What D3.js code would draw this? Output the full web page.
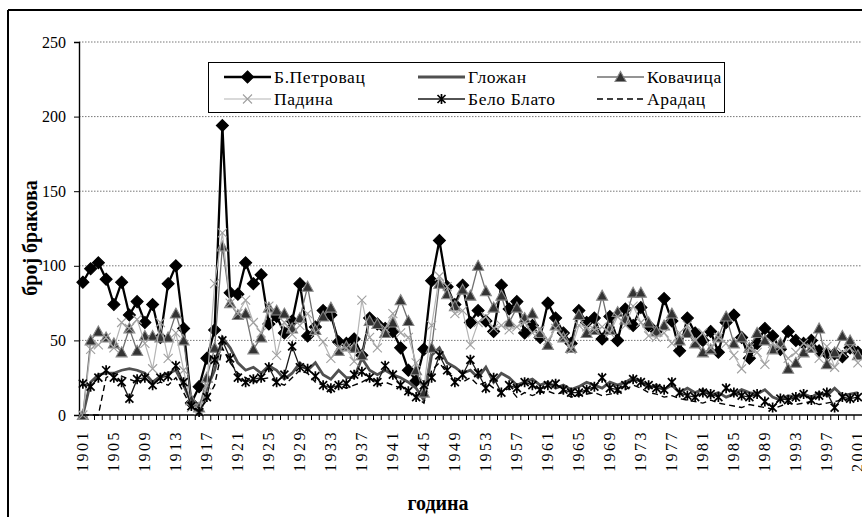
<!DOCTYPE html>
<html>
<head>
<meta charset="utf-8">
<script src="https://cdn.jsdelivr.net/npm/d3@7"></script>
<style>
  body { margin: 0; background: #fff; }
  svg text { font-family: "Times New Roman", "Liberation Serif", serif; }
</style>
</head>
<body>
<svg id="chart" width="862" height="517"></svg>
<script>
// years 1901..2001
var years = d3.range(1901, 2002);
var yTicks = [0, 50, 100, 150, 200, 250];
var xLabels = d3.range(1901, 2002, 4);

var petrovac = [89,98,102,91,74,89,67,76,62,74,52,88,100,58,8,19,38,57,194,82,
  81,102,88,94,61,66,55,63,88,53,59,70,67,49,48,51,40,65,61,58,
  56,45,30,23,44,90,117,86,74,87,62,70,63,56,87,71,76,55,60,52,
  75,65,55,48,70,62,65,51,66,50,71,60,72,60,56,78,63,43,65,55,
  50,56,42,62,67,52,38,48,58,53,44,56,50,48,50,43,41,41,39,45,42];
var glozan = [0,22,27,28,28,30,31,30,28,22,26,28,30,20,8,5,18,30,52,45,
  35,30,32,28,33,30,24,28,35,30,35,27,24,30,25,25,38,30,27,30,
  27,25,22,18,10,40,45,35,32,28,30,25,32,22,28,25,20,22,24,20,
  22,18,20,17,19,22,20,18,22,20,22,25,23,18,20,17,20,15,18,15,
  17,13,15,12,14,17,15,14,17,12,10,13,12,14,12,15,13,18,13,14,15];
var kovacica = [0,50,56,52,48,42,58,43,53,53,52,52,68,50,10,5,25,45,113,75,
  67,68,44,52,72,70,68,58,65,86,57,66,72,43,46,45,40,63,61,55,
  62,77,63,30,15,45,88,81,73,84,80,100,83,72,80,62,72,65,68,55,
  47,60,52,45,67,55,57,80,57,69,64,82,82,62,56,60,68,50,55,48,
  42,44,52,66,48,52,45,55,50,44,48,31,35,42,45,58,34,42,53,50,40];
var padina = [0,44,47,52,45,62,58,64,48,31,62,38,55,30,5,3,20,88,122,75,
  68,77,62,55,73,40,62,54,60,68,55,49,38,45,45,36,77,52,45,58,
  68,55,52,35,18,60,93,86,68,70,47,62,66,58,60,57,59,62,55,57,
  50,58,52,44,60,59,57,59,55,66,60,73,62,53,52,55,48,55,60,50,
  55,45,52,48,40,31,45,42,34,48,45,38,42,48,45,38,46,32,42,45,35];
var beloBlato = [21,19,25,30,25,22,11,24,25,20,25,26,33,22,6,2,12,37,50,38,
  25,22,24,25,32,22,27,46,32,31,26,20,18,20,21,27,29,25,22,33,
  27,20,16,12,20,25,40,30,22,27,37,28,18,25,15,20,18,22,20,17,
  20,21,17,15,15,17,19,25,18,17,20,24,22,20,18,17,22,15,13,12,
  15,14,12,18,15,13,12,14,9,5,11,10,12,14,10,13,15,5,12,11,12];
var aradac = [0,0,0,25,28,26,24,22,24,20,22,20,25,15,5,3,10,20,45,35,
  28,25,22,24,25,22,20,25,30,28,22,20,15,20,18,20,22,25,20,22,
  20,18,15,12,8,30,35,28,25,22,25,20,22,18,15,18,12,15,13,15,
  16,14,15,12,13,14,15,13,14,15,17,20,18,15,14,12,13,11,10,9,
  8,10,8,7,6,5,7,6,5,4,6,8,7,8,9,7,8,9,10,11,12];

var serif = '"Times New Roman", "Liberation Serif", serif';
var svg = d3.select('#chart');

var plot = { left: 79, right: 862, top: 42, bottom: 415 };

// outer frame (right and bottom edges fall outside the picture)
var frame = svg.append('g').attr('stroke', '#000').attr('stroke-width', 2);
frame.append('line').attr('x1', 8).attr('x2', 8).attr('y1', 10).attr('y2', 517);
frame.append('line').attr('x1', 8).attr('x2', 862).attr('y1', 10).attr('y2', 10);

var x = d3.scaleBand().domain(years).range([plot.left, plot.left + years.length * 7.75]);
var cx = function(yr) { return x(yr) + x.bandwidth() / 2; };
var y = d3.scaleLinear().domain([0, 250]).range([plot.bottom, plot.top]);

// gridlines
svg.append('g').selectAll('line')
  .data(yTicks.filter(function(d) { return d > 0; }))
  .enter().append('line')
  .attr('x1', plot.left).attr('x2', plot.right)
  .attr('y1', function(d) { return y(d); }).attr('y2', function(d) { return y(d); })
  .attr('stroke', '#777').attr('stroke-width', 1).attr('stroke-dasharray', '1.5,1.5');

// y axis
var yAxis = svg.append('g')
  .attr('transform', 'translate(' + plot.left + ',0)')
  .call(d3.axisLeft(y).tickValues(yTicks).tickSize(5).tickPadding(8));
yAxis.attr('font-family', serif);
yAxis.select('.domain').attr('stroke-width', 1.4);
yAxis.selectAll('text').style('font-size', '16px').style('font-family', serif);

// x axis with a tick at each category edge
var xAxisG = svg.append('g').attr('transform', 'translate(0,' + plot.bottom + ')');
xAxisG.append('line')
  .attr('x1', plot.left).attr('x2', plot.right)
  .attr('stroke', '#000').attr('stroke-width', 1.4);
xAxisG.selectAll('.tk')
  .data(years)
  .enter().append('line')
  .attr('class', 'tk')
  .attr('x1', function(d) { return x(d); }).attr('x2', function(d) { return x(d); })
  .attr('y1', 0).attr('y2', 5)
  .attr('stroke', '#000');
xAxisG.selectAll('.lb')
  .data(xLabels)
  .enter().append('text')
  .attr('class', 'lb')
  .attr('transform', function(d) { return 'translate(' + (cx(d) + 5.5) + ',15) rotate(-90)'; })
  .attr('text-anchor', 'end')
  .style('font-size', '16px')
  .style('font-family', serif)
  .style('letter-spacing', '2.5px')
  .text(function(d) { return d; });

// axis titles
svg.append('text')
  .attr('transform', 'translate(37,238) rotate(-90)')
  .attr('text-anchor', 'middle')
  .style('font-size', '20px').style('font-weight', 'bold').style('font-family', serif)
  .text('број бракова');
svg.append('text')
  .attr('x', 438).attr('y', 510)
  .attr('text-anchor', 'middle')
  .style('font-size', '20px').style('font-weight', 'bold').style('font-family', serif)
  .text('година');

// marker shapes
var shapes = {
  diamond: 'M0,-6L6,0L0,6L-6,0Z',
  triangle: 'M0,-5.5L5.5,4.5L-5.5,4.5Z',
  cross: 'M-4.5,-4.5L4.5,4.5M4.5,-4.5L-4.5,4.5',
  star: 'M-4,-4L4,4M4,-4L-4,4M0,-5L0,5'
};

var series = [
  { name: 'Б.Петровац', data: petrovac, color: '#000', width: 2.3, marker: 'diamond', mFill: '#000', mStroke: '#000' },
  { name: 'Гложан', data: glozan, color: '#505050', width: 2.8, marker: null },
  { name: 'Ковачица', data: kovacica, color: '#707070', width: 1.3, marker: 'triangle', mFill: '#333', mStroke: '#888' },
  { name: 'Падина', data: padina, color: '#b4b4b4', width: 1.2, marker: 'cross', mFill: 'none', mStroke: '#a0a0a0' },
  { name: 'Бело Блато', data: beloBlato, color: '#1a1a1a', width: 1.3, marker: 'star', mFill: 'none', mStroke: '#000' },
  { name: 'Арадац', data: aradac, color: '#000', width: 1.4, marker: null, dash: '6,4' }
];

var line = d3.line()
  .x(function(d, i) { return cx(years[i]); })
  .y(function(d) { return y(d); });

series.forEach(function(s) {
  var g = svg.append('g');
  g.append('path')
    .datum(s.data)
    .attr('d', line)
    .attr('fill', 'none')
    .attr('stroke', s.color)
    .attr('stroke-width', s.width)
    .attr('stroke-dasharray', s.dash || null);
  if (s.marker) {
    g.selectAll('.m')
      .data(s.data)
      .enter().append('path')
      .attr('class', 'm')
      .attr('transform', function(d, i) { return 'translate(' + cx(years[i]) + ',' + y(d) + ')'; })
      .attr('d', shapes[s.marker])
      .attr('fill', s.mFill)
      .attr('stroke', s.mStroke)
      .attr('stroke-width', s.marker === 'star' ? 1.7 : 1.1);
  }
});

// legend
var legend = svg.append('g');
legend.append('rect')
  .attr('x', 208.5).attr('y', 62.5).attr('width', 516).attr('height', 50)
  .attr('fill', '#fff').attr('stroke', '#000').attr('stroke-width', 1);

var legCols = [224, 418, 597];
var legRows = [77, 99];
series.forEach(function(s, i) {
  var lx = legCols[i % 3], ly = legRows[Math.floor(i / 3)];
  var item = legend.append('g').attr('transform', 'translate(' + lx + ',' + ly + ')');
  item.append('line')
    .attr('x1', 0).attr('x2', 47)
    .attr('stroke', s.color)
    .attr('stroke-width', s.width)
    .attr('stroke-dasharray', s.dash || null);
  if (s.marker) {
    item.append('path')
      .attr('transform', 'translate(23.5,0)')
      .attr('d', shapes[s.marker])
      .attr('fill', s.mFill)
      .attr('stroke', s.mStroke)
      .attr('stroke-width', s.marker === 'star' ? 1.7 : 1.1);
  }
  item.append('text')
    .attr('x', 50).attr('y', 6)
    .style('font-size', '17.5px')
    .style('font-family', serif)
    .style('letter-spacing', '0.6px')
    .text(s.name);
});
</script>
</body>
</html>
